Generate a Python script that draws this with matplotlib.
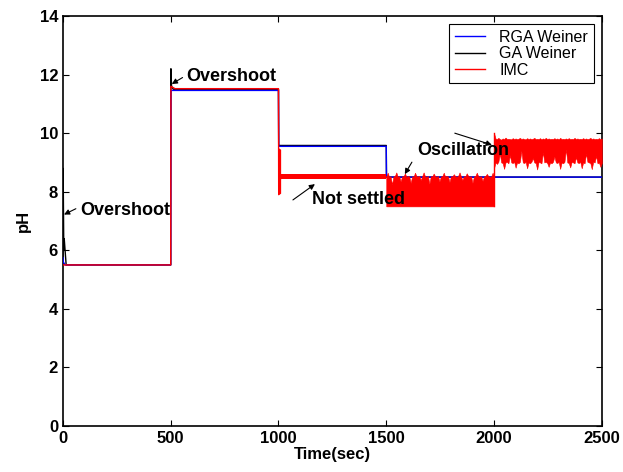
import numpy as np
import matplotlib.pyplot as plt

plt.rcParams['font.family'] = ['Liberation Sans', 'DejaVu Sans']

# step responses (time in sec, pH)
rga_t = [0, 2, 10, 500, 501, 1000, 1001, 1500, 1501, 2500]
rga_ph = [5.75, 5.6, 5.5, 5.5, 11.46, 11.46, 9.55, 9.55, 8.5, 8.5]

ga_t = [0, 1, 4, 6, 15, 500, 500, 501, 504, 512, 1000, 1001, 1500, 1501, 2500]
ga_ph = [5.5, 8.8, 6.0, 6.4, 5.5, 5.5, 6.9, 12.2, 11.6, 11.5, 11.5, 9.58, 9.58, 8.5, 8.5]

imc_t = [0, 500, 501, 520, 1000, 1001, 1010, 1500]
imc_ph = [5.5, 5.5, 11.6, 11.52, 11.52, 7.9, 8.5, 8.5]

# IMC ringing right after the 1000 s step, then the offset plateau
imc_ring_t = [1000, 1010]
imc_ring_lo = [7.9, 7.95]
imc_ring_hi = [9.5, 9.45]

imc_hold_t = [1010, 1500]
imc_hold_lo = [8.45, 8.45]
imc_hold_hi = [8.6, 8.6]

# IMC oscillation envelopes, 1500-2000 s and 2000-2500 s
osc1_bot = 7.5
osc1_top = [8.52, 8.65, 8.5, 8.53, 8.25, 8.52, 8.54, 8.66, 8.51, 8.53, 8.35,
            8.53, 8.52, 8.63, 8.5, 8.54, 8.52, 8.3, 8.53, 8.51, 8.65, 8.53,
            8.52, 8.54, 8.4, 8.53, 8.66, 8.52, 8.51, 8.54, 8.27, 8.53, 8.52,
            8.62, 8.53, 8.51, 8.54, 8.35, 8.52, 8.53, 8.65, 8.51, 8.54, 8.52,
            8.33, 8.53, 8.52, 8.6, 8.53, 8.51, 8.54, 8.66, 8.52, 8.4, 8.53,
            8.52, 8.63, 8.54, 8.51, 8.53, 8.3, 8.52, 8.54, 8.65, 8.53, 8.51,
            8.53, 8.37, 8.52, 8.54, 8.61, 8.53, 8.51, 8.52, 8.65, 8.53]

osc2_top = [10.0, 9.82, 9.8, 9.84, 9.8, 9.78, 9.82, 9.8, 9.85, 9.8, 9.81,
            9.8, 9.79, 9.83, 9.8, 9.82, 9.8, 9.81, 9.84, 9.8, 9.82, 9.8,
            9.79, 9.83, 9.8, 9.82, 9.8, 9.81, 9.84, 9.8, 9.81, 9.8, 9.83,
            9.79, 9.82, 9.8, 9.84, 9.8, 9.82, 9.8, 9.81, 9.8, 9.83, 9.8,
            9.82, 9.79, 9.84, 9.8, 9.81, 9.8, 9.82, 9.8, 9.83, 9.8, 9.81,
            9.8, 9.84, 9.8, 9.82, 9.8, 9.81, 9.8, 9.83, 9.8, 9.82, 9.8,
            9.81, 9.84, 9.8, 9.82, 9.8, 9.81, 9.8, 9.83, 9.8, 9.82]
osc2_bot = [8.8, 9.0, 8.95, 9.02, 9.3, 9.0, 8.98, 8.78, 9.0, 9.02, 8.97,
            9.25, 9.0, 8.98, 9.02, 8.82, 9.0, 8.97, 9.02, 9.4, 9.0, 8.98,
            9.02, 8.8, 9.0, 8.97, 9.02, 9.15, 9.0, 8.98, 8.76, 9.02, 9.0,
            8.97, 9.35, 9.0, 9.02, 8.98, 8.85, 9.0, 8.97, 9.02, 9.2, 9.0,
            8.98, 9.02, 8.78, 9.0, 8.97, 9.02, 9.45, 9.0, 8.98, 8.83, 9.02,
            9.0, 8.97, 9.18, 9.0, 8.98, 9.02, 8.8, 9.0, 8.97, 9.3, 9.02,
            9.0, 8.98, 8.77, 9.02, 9.0, 9.22, 8.97, 9.0, 8.85, 8.98]

fig = plt.figure(figsize=(6.23, 4.72), dpi=100)
ax = fig.add_axes([0.101, 0.0975, 0.865, 0.8685])

ax.plot(ga_t, ga_ph, color='black', lw=1, label='GA Weiner', zorder=2)
ax.plot(rga_t, rga_ph, color='blue', lw=1, label='RGA Weiner', zorder=3)
ax.plot(imc_t, imc_ph, color='red', lw=1, label='IMC', zorder=4)

ax.fill_between(imc_ring_t, imc_ring_lo, imc_ring_hi, color='red', lw=0, zorder=4)
ax.fill_between(imc_hold_t, imc_hold_lo, imc_hold_hi, color='red', lw=0, zorder=4)

t1 = np.linspace(1500, 2000, len(osc1_top))
ax.fill_between(t1, osc1_bot, osc1_top, color='red', lw=0.4, edgecolor='red', zorder=4)
t2 = np.linspace(2000, 2500, len(osc2_top))
ax.fill_between(t2, osc2_bot, osc2_top, color='red', lw=0.4, edgecolor='red', zorder=4)
ax.plot([2000, 2000], [osc1_bot, osc2_top[0]], color='red', lw=1, zorder=4)

ax.set_xlim(0, 2500)
ax.set_ylim(0, 14)
ax.set_xticks(np.arange(0, 2501, 500))
ax.set_yticks(np.arange(0, 15, 2))
ax.tick_params(direction='in', top=True, right=True, length=4, labelsize=12)
for lab in ax.get_xticklabels() + ax.get_yticklabels():
    lab.set_fontweight('bold')
for s in ax.spines.values():
    s.set_linewidth(1.2)

ax.set_xlabel('Time(sec)', fontsize=12, fontweight='bold', labelpad=1)
ax.set_ylabel('pH', fontsize=12, fontweight='bold', labelpad=6)

handles, labels = ax.get_legend_handles_labels()
order = [1, 0, 2]
leg = ax.legend([handles[i] for i in order], [labels[i] for i in order],
                loc='upper right', fontsize=11.5, fancybox=False,
                edgecolor='black', framealpha=1, borderaxespad=0.5,
                handlelength=1.9, handletextpad=0.9, labelspacing=0.1,
                borderpad=0.35)
leg.get_frame().set_linewidth(0.8)
leg.set_zorder(10)

arrow = dict(arrowstyle='-|>', color='black', lw=0.8, mutation_scale=8,
             shrinkA=0, shrinkB=0)
txt = dict(fontsize=13, fontweight='bold', va='center', ha='left', zorder=8)

ax.annotate('', xy=(5, 7.22), xytext=(60, 7.42), arrowprops=arrow, zorder=8)
ax.text(79, 7.37, 'Overshoot', **txt)

ax.annotate('', xy=(505, 11.68), xytext=(555, 11.9), arrowprops=arrow, zorder=8)
ax.text(570, 11.92, 'Overshoot', **txt)

ax.annotate('', xy=(1169, 8.26), xytext=(1067, 7.72), arrowprops=arrow, zorder=8)
ax.text(1155, 7.72, 'Not settled', **txt)

ax.annotate('', xy=(1586, 8.6), xytext=(1619, 9.01), arrowprops=arrow, zorder=8)
ax.annotate('', xy=(1990, 9.6), xytext=(1818, 10.0), arrowprops=arrow, zorder=8)
ax.text(1642, 9.42, 'Oscillation', **txt)

fig.savefig('out.png', dpi=100)
